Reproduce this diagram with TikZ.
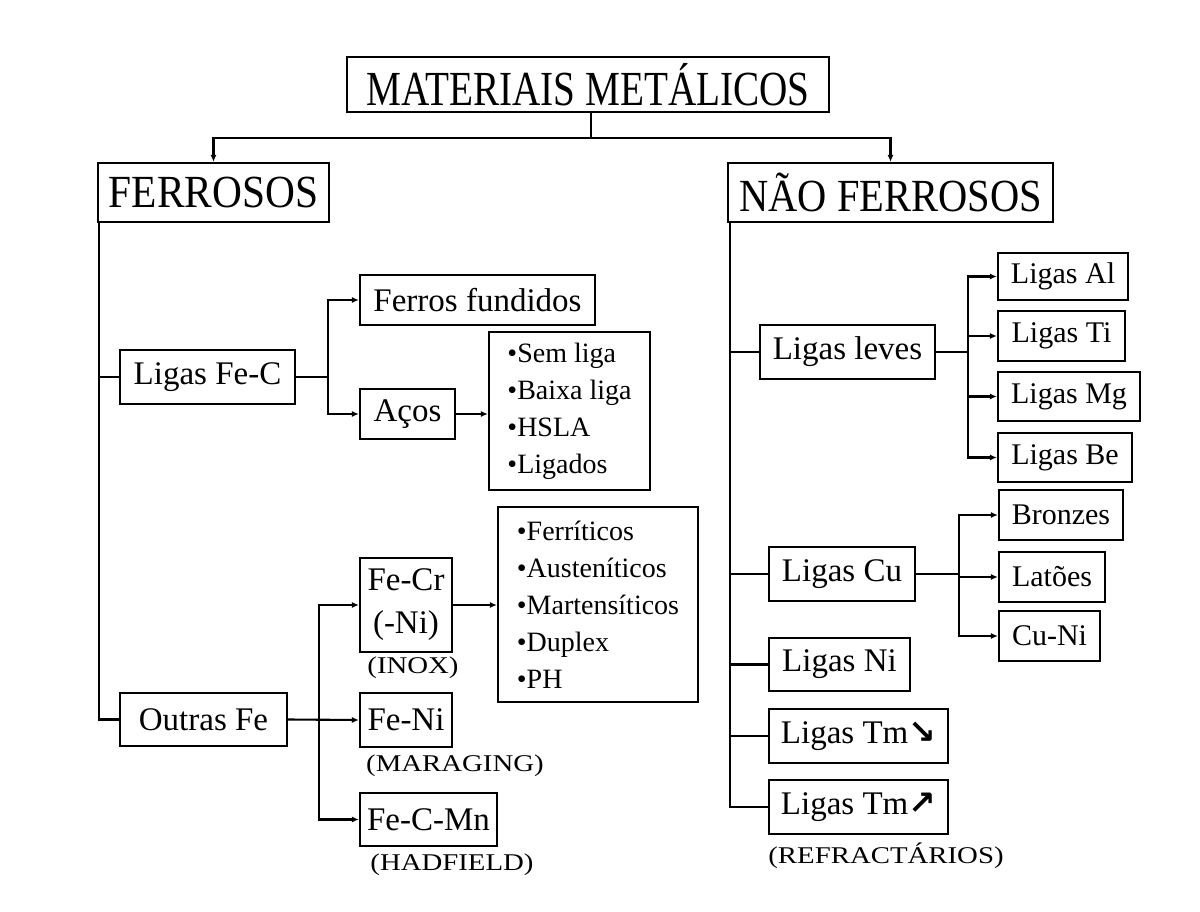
\documentclass[tikz,border=0pt]{standalone}
\usepackage{fontspec}
\setmainfont{Liberation Serif}
\newfontfamily\symfont{DejaVu Sans}
\usetikzlibrary{arrows.meta,calc}
\begin{document}
\begin{tikzpicture}[x=1pt,y=-1pt,
  box/.style={draw,line width=2.1pt,inner sep=0pt,align=center,font=\fontsize{33}{43}\selectfont},
  lst/.style={draw,line width=2.1pt,inner sep=0pt,align=left,font=\fontsize{28}{37}\selectfont},
  lbl/.style={inner sep=0pt,font=\fontsize{24}{28}\selectfont},
  conn/.style={line width=2.1pt},
  arr/.style={line width=2.1pt,-{Latex[length=7pt,width=6pt]}}]
\useasboundingbox (0,0) rectangle (1200,912);
% top level
\node[box,minimum width=482pt,minimum height=55pt] (title) at (588,84.5) {\scalebox{0.8}[1]{\fontsize{49}{55}\selectfont MATERIAIS METÁLICOS}};
\node[box,minimum width=231pt,minimum height=59pt] (ferr) at (213.5,192.5) {\scalebox{0.9}[1]{\fontsize{46}{52}\selectfont FERROSOS}};
\node[box,minimum width=325pt,minimum height=59pt] (nferr) at (890.5,192.5) {\scalebox{0.88}[1]{\fontsize{46}{52}\selectfont NÃO FERROSOS}};
\coordinate (tj) at ($(title.south)+(3,25)$);
\draw[conn] ($(title.south)+(3,0)$) -- (tj);
\draw[arr] (tj) -| (ferr.north);
\draw[arr] (tj) -| (nferr.north);
% ferrous side
\node[box,minimum width=175pt,minimum height=54pt] (fec) at (207.5,377) {Ligas Fe-C};
\node[box,minimum width=235pt,minimum height=50pt] (ffund) at (477.5,300) {Ferros fundidos};
\node[box,minimum width=95pt,minimum height=50pt] (acos) at (407.5,414) {Aços};
\node[lst,minimum width=161pt,minimum height=158pt] (list1) at (569.5,411) {•Sem liga\\•Baixa liga\\•HSLA\\•Ligados};
\node[box,minimum width=167pt,minimum height=53pt] (outras) at (203.5,719.5) {Outras Fe};
\node[box,minimum width=92pt,minimum height=94pt] (fecr) at (406,605) {Fe-Cr\\(-Ni)};
\node[lst,minimum width=200pt,minimum height=195pt] (list2) at (598,604.5) {•Ferríticos\\•Austeníticos\\•Martensíticos\\•Duplex\\•PH};
\node[box,minimum width=92pt,minimum height=54pt] (feni) at (406,720) {Fe-Ni};
\node[box,minimum width=137pt,minimum height=53pt] (fecmn) at (428.5,819.5) {Fe-C-Mn};
\node[lbl] (inox) at (413,668) {\scalebox{1.2}[1]{(INOX)}};
\node[lbl] (marag) at (455,766) {\scalebox{1.2}[1]{(MARAGING)}};
\node[lbl] (hadf) at (452,865) {\scalebox{1.2}[1]{(HADFIELD)}};
\coordinate (lt) at ($(ferr.south west)+(2,0)$);
\draw[conn] (lt) |- (outras.west);
\draw[conn] (lt |- fec.west) -- (fec.west);
\coordinate (j1) at ($(fec.east)+(32,0)$);
\draw[conn] (fec.east) -- (j1);
\draw[arr] (j1) |- (ffund.west);
\draw[arr] (j1) |- (acos.west);
\draw[arr] (acos.east) -- (acos.east -| list1.west);
\coordinate (j2) at ($(outras.east)+(31,0)$);
\draw[arr] (outras.east) -- (feni.west);
\draw[arr] (j2) |- (fecr.west);
\draw[arr] (j2) |- (fecmn.west);
\draw[arr] (fecr.east) -- (fecr.east -| list2.west);
% non-ferrous side
\node[box,minimum width=175pt,minimum height=54pt] (leves) at (847.5,352) {Ligas leves};
\node[box,minimum width=130pt,minimum height=47pt,font=\fontsize{30}{36}\selectfont] (al) at (1063,276.5) {Ligas Al};
\node[box,minimum width=127pt,minimum height=50pt,font=\fontsize{30}{36}\selectfont] (ti) at (1061.5,336) {Ligas Ti};
\node[box,minimum width=142pt,minimum height=49pt,font=\fontsize{30}{36}\selectfont] (mg) at (1069,396.5) {Ligas Mg};
\node[box,minimum width=134pt,minimum height=49pt,font=\fontsize{30}{36}\selectfont] (be) at (1065,457.5) {Ligas Be};
\node[box,minimum width=146pt,minimum height=54pt] (cu) at (842,574) {Ligas Cu};
\node[box,minimum width=124pt,minimum height=50pt,font=\fontsize{30}{36}\selectfont] (bron) at (1061,515) {Bronzes};
\node[box,minimum width=106pt,minimum height=50pt,font=\fontsize{30}{36}\selectfont] (lat) at (1052,577) {Latões};
\node[box,minimum width=101pt,minimum height=50pt,font=\fontsize{30}{36}\selectfont] (cuni) at (1049.5,636) {Cu-Ni};
\node[box,minimum width=141pt,minimum height=53pt] (ni) at (839.5,664.5) {Ligas Ni};
\node[box,minimum width=179pt,minimum height=54pt] (tm1) at (858.5,736) {Ligas Tm{\symfont\bfseries ↘}};
\node[box,minimum width=179pt,minimum height=54pt] (tm2) at (858.5,807) {Ligas Tm{\symfont\bfseries ↗}};
\node[lbl] (refr) at (886,856) {\scalebox{1.2}[1]{(REFRACTÁRIOS)}};
\coordinate (rt) at ($(nferr.south west)+(3,0)$);
\draw[conn] (rt) |- (tm2.west);
\draw[conn] (rt |- leves.west) -- (leves.west);
\draw[conn] (rt |- cu.west) -- (cu.west);
\draw[conn] (rt |- ni.west) -- (ni.west);
\draw[conn] (rt |- tm1.west) -- (tm1.west);
\coordinate (j3) at ($(leves.east)+(32,0)$);
\draw[conn] (leves.east) -- (j3);
\draw[arr] (j3) |- (al.west);
\draw[arr] (j3) |- (ti.west);
\draw[arr] (j3) |- (mg.west);
\draw[arr] (j3) |- (be.west);
\coordinate (j4) at ($(cu.east)+(43,0)$);
\draw[conn] (cu.east) -- (j4);
\draw[arr] (j4) |- (bron.west);
\draw[arr] (j4) |- (lat.west);
\draw[arr] (j4) |- (cuni.west);
\end{tikzpicture}
\end{document}
